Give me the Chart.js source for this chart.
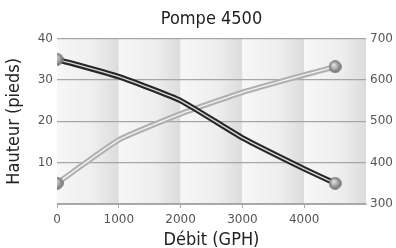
<!DOCTYPE html>
<html>
<head>
<meta charset="utf-8">
<script src="https://cdn.jsdelivr.net/npm/chart.js@4"></script>
<style>
  html, body { margin: 0; padding: 0; background: #fff; }
  #wrap { width: 396px; height: 248px; }
</style>
</head>
<body>
<div id="wrap"><canvas id="chart" width="396" height="248"></canvas></div>
<script>
// values
const debit = [0, 1000, 2000, 3000, 4000, 4500];
const hauteur = [35, 30.8, 25, 16, 8.5, 5];
const serie2 = [350, 455, 518, 570, 612, 632];
const xTicks = [0, 1000, 2000, 3000, 4000];
const leftTicks = [10, 20, 30, 40];
const rightTicks = [300, 400, 500, 600, 700];

const condensed = "'Liberation Sans Narrow', 'DejaVu Sans Condensed', sans-serif";
const tickFont = { family: "'DejaVu Sans', sans-serif", size: 12 };

function pts(ys) {
  return debit.map((x, i) => ({ x: x, y: ys[i] }));
}

// little grey ball used for the end points
function makeBall() {
  const c = document.createElement('canvas');
  c.width = 13; c.height = 13;
  const g = c.getContext('2d');
  const grad = g.createRadialGradient(5, 4.5, 0.5, 6.5, 6.5, 6.5);
  grad.addColorStop(0, '#e4e4e4');
  grad.addColorStop(0.6, '#999');
  grad.addColorStop(1, '#666');
  g.fillStyle = grad;
  g.beginPath();
  g.arc(6.5, 6.5, 6, 0, Math.PI * 2);
  g.fill();
  g.strokeStyle = '#777';
  g.lineWidth = 0.8;
  g.stroke();
  return c;
}
const ball = makeBall();
const endRadius = debit.map((d, i) => (i === 0 || i === debit.length - 1) ? 6 : 0);

// shaded vertical bands behind the plot
const bands = {
  id: 'bands',
  beforeDraw(chart) {
    const { ctx, chartArea, scales } = chart;
    const edges = [0, 1000, 2000, 3000, 4000, 5000].map(v => scales.x.getPixelForValue(v));
    ctx.save();
    for (let i = 0; i < edges.length - 1; i++) {
      const g = ctx.createLinearGradient(edges[i], 0, edges[i + 1], 0);
      g.addColorStop(0, '#f7f7f7');
      g.addColorStop(0.6, '#eeeeee');
      g.addColorStop(1, '#dcdcdc');
      ctx.fillStyle = g;
      ctx.fillRect(edges[i], chartArea.top, edges[i + 1] - edges[i], chartArea.bottom - chartArea.top);
    }
    ctx.restore();
  }
};

function tube(data, axis, outer, inner, order) {
  return [
    { data: data, yAxisID: axis, borderColor: outer, borderWidth: 5.5, pointRadius: 0,
      tension: 0.15, order: order + 1 },
    { data: data, yAxisID: axis, borderColor: inner, borderWidth: 1.3, tension: 0.15,
      pointStyle: ball, pointRadius: endRadius, order: order }
  ];
}

new Chart(document.getElementById('chart'), {
  type: 'line',
  data: {
    datasets: [
      ...tube(pts(hauteur), 'y', '#262626', '#d8d8d8', 1),
      ...tube(pts(serie2), 'y1', '#b0b0b0', '#f4f4f4', 3)
    ]
  },
  plugins: [bands],
  options: {
    responsive: false,
    animation: false,
    layout: { padding: 0 },
    plugins: {
      legend: { display: false },
      tooltip: { enabled: false },
      title: {
        display: true,
        fullSize: false,
        text: 'Pompe 4500',
        color: '#222',
        font: { family: condensed, size: 18, weight: 'normal' },
        padding: { top: 9, bottom: 8 }
      }
    },
    scales: {
      x: {
        type: 'linear',
        min: 0, max: 5000,
        afterBuildTicks: s => { s.ticks = xTicks.map(v => ({ value: v })); },
        afterFit: s => { s.height = 44; },
        ticks: { color: '#555', font: tickFont, padding: 5, maxRotation: 0,
          callback: v => String(v) },
        grid: { drawOnChartArea: false, drawTicks: true, tickLength: 4, color: '#aaa' },
        border: { display: true, color: '#aaa' },
        title: { display: true, text: 'Débit (GPH)', color: '#222',
          font: { family: condensed, size: 18 }, padding: { top: 0, bottom: -3 } }
      },
      y: {
        position: 'left',
        min: 0, max: 40,
        afterBuildTicks: s => { s.ticks = [0].concat(leftTicks).map(v => ({ value: v })); },
        afterFit: s => { s.width = 57; },
        ticks: { color: '#555', font: tickFont, padding: 4,
          callback: v => leftTicks.includes(v) ? v : '' },
        grid: { color: '#a6a6a6', lineWidth: 1.3, drawTicks: false },
        border: { display: false },
        title: { display: true, text: 'Hauteur (pieds)', color: '#222',
          font: { family: condensed, size: 18 }, padding: { top: 4, bottom: 4 } }
      },
      y1: {
        position: 'right',
        min: 300, max: 700,
        afterBuildTicks: s => { s.ticks = rightTicks.map(v => ({ value: v })); },
        afterFit: s => { s.width = 30; },
        ticks: { color: '#555', font: tickFont, padding: 4 },
        grid: { drawOnChartArea: false, drawTicks: false },
        border: { display: false }
      }
    }
  }
});
</script>
</body>
</html>
